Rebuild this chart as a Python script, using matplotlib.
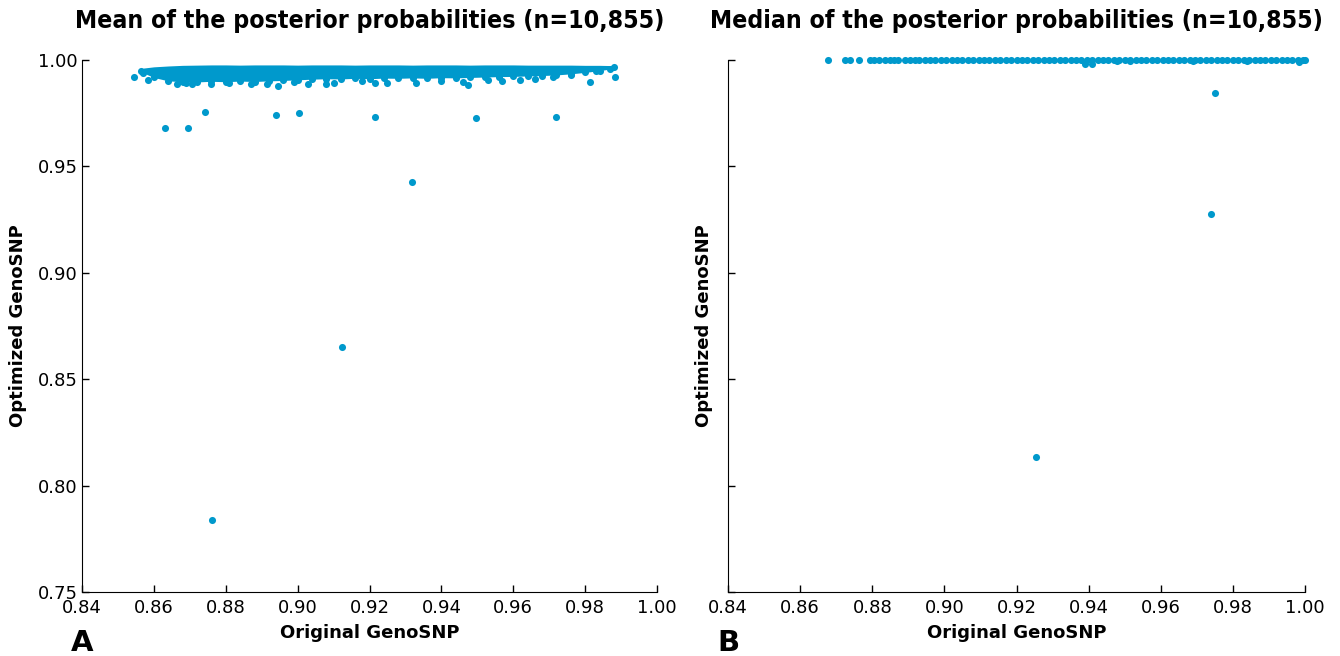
import matplotlib
matplotlib.use("Agg")
import matplotlib.pyplot as plt

# --- data ---
# dense band of the "mean" panel: per-x upper edge and lower row of points
band_x = [0.857, 0.860, 0.864, 0.868, 0.872, 0.876, 0.880, 0.884, 0.888, 0.892,
          0.896, 0.900, 0.904, 0.908, 0.912, 0.916, 0.920, 0.924, 0.928, 0.932,
          0.936, 0.940, 0.944, 0.948, 0.952, 0.956, 0.960, 0.964, 0.968, 0.972,
          0.976, 0.980, 0.984, 0.987]
band_top = [0.9962, 0.9968, 0.9972, 0.9975, 0.9976, 0.9977, 0.9977, 0.9976, 0.9977, 0.9977,
            0.9977, 0.9976, 0.9977, 0.9977, 0.9977, 0.9976, 0.9977, 0.9977, 0.9977, 0.9976,
            0.9977, 0.9977, 0.9977, 0.9976, 0.9977, 0.9977, 0.9977, 0.9976, 0.9976, 0.9976,
            0.9976, 0.9975, 0.9975, 0.9974]
band_low = [0.9940, 0.9918, 0.9902, 0.9898, 0.9897, 0.9900, 0.9898, 0.9901, 0.9899, 0.9902,
            0.9904, 0.9907, 0.9910, 0.9912, 0.9911, 0.9914, 0.9912, 0.9915, 0.9914, 0.9916,
            0.9914, 0.9917, 0.9916, 0.9918, 0.9920, 0.9922, 0.9923, 0.9925, 0.9927, 0.9930,
            0.9935, 0.9942, 0.9950, 0.9958]

# stray points just under the band
stray_x = [0.8585, 0.8565, 0.8600, 0.8625, 0.8665, 0.8690, 0.8705, 0.8760, 0.8810, 0.8870,
           0.8915, 0.8945, 0.8990, 0.9030, 0.9080, 0.9100, 0.9180, 0.9215, 0.9250, 0.9330,
           0.9400, 0.9460, 0.9475, 0.9530, 0.9570, 0.9620, 0.9660, 0.9710, 0.9760, 0.9830,
           0.9880]
stray_y = [0.9905, 0.9950, 0.9930, 0.9948, 0.9885, 0.9893, 0.9887, 0.9888, 0.9890, 0.9889,
           0.9885, 0.9880, 0.9895, 0.9885, 0.9888, 0.9892, 0.9900, 0.9893, 0.9890, 0.9890,
           0.9900, 0.9895, 0.9882, 0.9905, 0.9900, 0.9905, 0.9910, 0.9918, 0.9930, 0.9950,
           0.9968]

# outliers of the "mean" panel
mean_out_x = [0.8545, 0.8631, 0.8695, 0.8742, 0.8940, 0.9004, 0.9215, 0.9318, 0.9123,
              0.8762, 0.9496, 0.9719, 0.9883, 0.9813]
mean_out_y = [0.9920, 0.9680, 0.9679, 0.9756, 0.9741, 0.9751, 0.9732, 0.9427, 0.8651,
              0.7838, 0.9727, 0.9732, 0.9920, 0.9897]

# "median" panel: almost everything sits at 1.0
med_top_x = [0.8677, 0.8724, 0.8738, 0.8763, 0.8794, 0.8806, 0.8820, 0.8835, 0.8848, 0.8860,
             0.8872, 0.8890, 0.8905, 0.8918, 0.8930, 0.8945, 0.8960, 0.8975, 0.8990,
             0.9005, 0.9020, 0.9035, 0.9050, 0.9065, 0.9080, 0.9095, 0.9110, 0.9125, 0.9140,
             0.9155, 0.9170, 0.9185, 0.9200, 0.9215, 0.9230, 0.9245, 0.9260, 0.9275, 0.9290,
             0.9305, 0.9320, 0.9335, 0.9350, 0.9365, 0.9380, 0.9395, 0.9410, 0.9425, 0.9440,
             0.9455, 0.9470, 0.9485, 0.9500, 0.9515, 0.9530, 0.9545, 0.9560, 0.9575, 0.9590,
             0.9605, 0.9620, 0.9635, 0.9650, 0.9665, 0.9680, 0.9695, 0.9710, 0.9725, 0.9740,
             0.9755, 0.9770, 0.9785, 0.9800, 0.9815, 0.9830, 0.9845, 0.9860, 0.9875, 0.9890,
             0.9905, 0.9920, 0.9935, 0.9950, 0.9965, 0.9980, 0.9995, 1.0000]
med_other_x = [0.9390, 0.9410, 0.9479, 0.9515, 0.9690, 0.9840, 0.9983, 0.9750, 0.9740, 0.9255]
med_other_y = [0.9981, 0.9982, 0.9995, 0.9995, 0.9994, 0.9995, 0.9993, 0.9843, 0.9275, 0.8135]

x_ticks = [0.84, 0.86, 0.88, 0.90, 0.92, 0.94, 0.96, 0.98, 1.00]
y_ticks = [0.75, 0.80, 0.85, 0.90, 0.95, 1.00]

col = '#0099cc'
ms = 26

fig = plt.figure(figsize=(13.4, 6.56), dpi=100)
ax1 = fig.add_axes([0.0612, 0.0976, 0.4291, 0.8109])
ax2 = fig.add_axes([0.5433, 0.0976, 0.4306, 0.8109])

# panel A
ax1.fill_between(band_x, band_low, band_top, color=col, lw=0)
ax1.scatter(band_x, band_low, s=ms, c=col, lw=0)
ax1.scatter(stray_x, stray_y, s=ms, c=col, lw=0)
ax1.scatter(mean_out_x, mean_out_y, s=ms, c=col, lw=0)
ax1.set_title('Mean of the posterior probabilities (n=10,855)', fontsize=17.8,
              fontweight='bold', fontstretch='condensed', pad=23)

# panel B
ax2.scatter(med_top_x, [1.0] * len(med_top_x), s=ms, c=col, lw=0, clip_on=False)
ax2.scatter(med_other_x, med_other_y, s=ms, c=col, lw=0, clip_on=False)
ax2.set_title('Median of the posterior probabilities (n=10,855)', fontsize=17.8,
              fontweight='bold', fontstretch='condensed', pad=23)

for ax in (ax1, ax2):
    ax.set_xlim(0.84, 1.0)
    ax.set_ylim(0.75, 1.0)
    ax.set_xticks(x_ticks)
    ax.set_xticklabels(['%.2f' % v for v in x_ticks])
    ax.set_yticks(y_ticks)
    ax.spines['top'].set_visible(False)
    ax.spines['right'].set_visible(False)
    ax.tick_params(direction='in', length=5, width=1, labelsize=13, top=False, right=False)
    ax.tick_params(axis='x', pad=5)
    ax.tick_params(axis='y', pad=3)
    ax.set_xlabel('Original GenoSNP', fontsize=13, fontweight='bold', labelpad=5)
    ax.set_ylabel('Optimized GenoSNP', fontsize=13, fontweight='bold', labelpad=8)

ax1.set_yticklabels(['%.2f' % v for v in y_ticks])
ax2.set_yticklabels([])

fig.text(0.0612, 0.008, 'A', fontsize=21, fontweight='bold', ha='center')
fig.text(0.5433, 0.008, 'B', fontsize=21, fontweight='bold', ha='center')

fig.savefig('out.png', dpi=100)
